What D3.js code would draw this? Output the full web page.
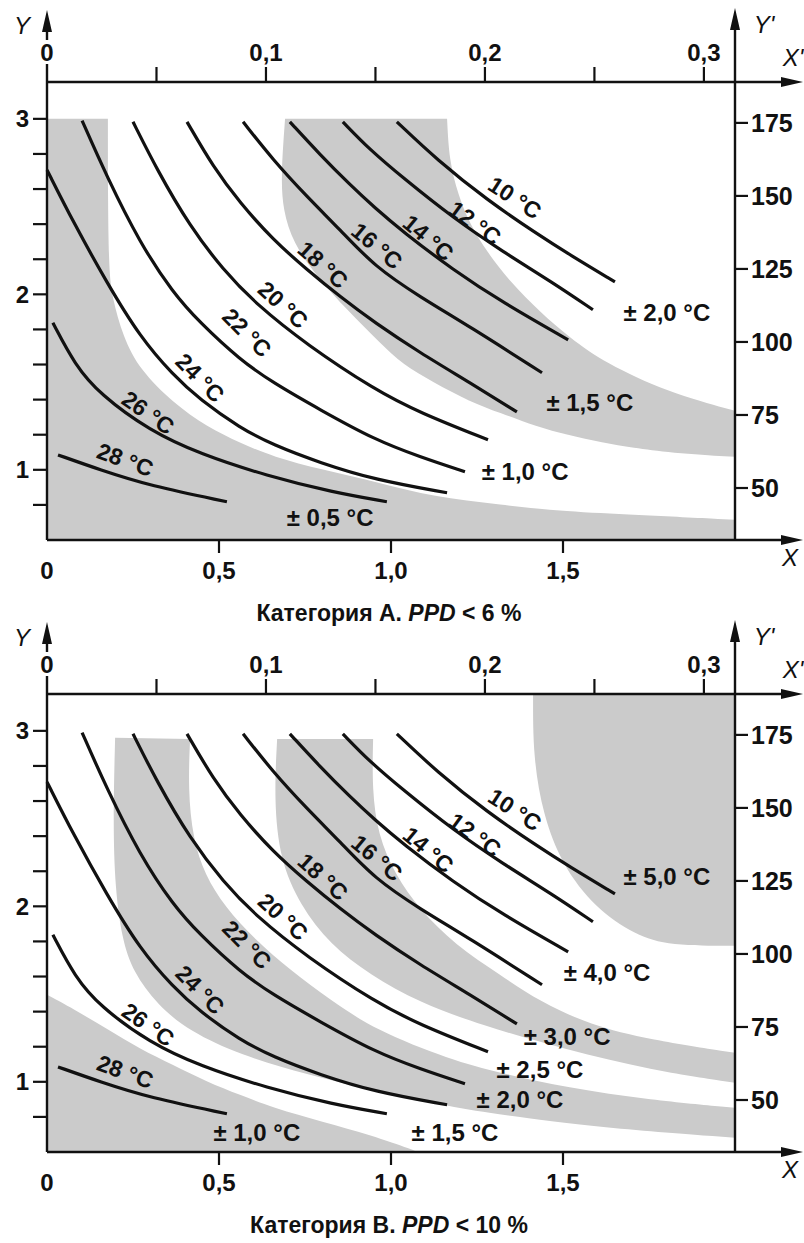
<!DOCTYPE html>
<html>
<head>
<meta charset="utf-8">
<script src="https://cdn.jsdelivr.net/npm/d3@7"></script>
<style>
body { margin: 0; background: #fff; }
text { font-family: "Liberation Sans", Arial, sans-serif; fill: #111; }
</style>
</head>
<body>
<svg id="chart" width="804" height="1243"></svg>
<script>
// Operative temperature curves: X = clothing (clo), Y = activity (met)
var curveNames = ["10 °C", "12 °C", "14 °C", "16 °C", "18 °C", "20 °C", "22 °C", "24 °C", "26 °C", "28 °C"];
var t10 = [[1.017,2.983],[1.134,2.766],[1.279,2.538],[1.424,2.345],[1.520,2.225],[1.651,2.071]];
var t12 = [[0.860,2.983],[0.939,2.823],[1.035,2.664],[1.180,2.436],[1.326,2.242],[1.471,2.066],[1.587,1.912]];
var t14 = [[0.706,2.983],[0.794,2.795],[0.881,2.624],[0.953,2.493],[1.035,2.356],[1.180,2.140],[1.326,1.952],[1.515,1.741]];
var t16 = [[0.570,2.983],[0.657,2.766],[0.756,2.556],[0.852,2.368],[0.953,2.157],[1.084,1.986],[1.230,1.815],[1.439,1.553]];
var t18 = [[0.407,2.983],[0.483,2.726],[0.561,2.521],[0.657,2.311],[0.756,2.140],[0.852,1.986],[0.953,1.838],[1.084,1.667],[1.230,1.496],[1.366,1.330]];
var t20 = [[0.250,2.983],[0.320,2.709],[0.416,2.385],[0.512,2.140],[0.610,1.940],[0.756,1.712],[0.953,1.456],[1.084,1.325],[1.282,1.171]];
var t22 = [[0.102,2.990],[0.174,2.670],[0.270,2.293],[0.366,2.009],[0.445,1.838],[0.561,1.627],[0.657,1.496],[0.794,1.342],[0.953,1.171],[1.084,1.074],[1.215,0.989]];
var t24 = [[0.000,2.709],[0.076,2.413],[0.174,2.066],[0.270,1.758],[0.366,1.541],[0.445,1.399],[0.561,1.239],[0.657,1.142],[0.794,1.040],[0.953,0.943],[1.163,0.869]];
var t26 = [[0.017,1.838],[0.081,1.598],[0.154,1.430],[0.299,1.222],[0.445,1.090],[0.640,0.965],[0.831,0.872],[0.988,0.818]];
var t28 = [[0.032,1.085],[0.154,1.000],[0.299,0.909],[0.523,0.818]];
var curves = [t10, t12, t14, t16, t18, t20, t22, t24, t26, t28];

// label anchor beside each curve (X, Y) and text angle
var curveLabelX = [1.360, 1.244, 1.108, 0.959, 0.802, 0.686, 0.581, 0.445, 0.294, 0.227];
var curveLabelY = [2.550, 2.407, 2.322, 2.276, 2.168, 1.940, 1.781, 1.524, 1.325, 1.057];
var curveLabelAngle = [33, 36, 40, 40, 42, 42, 45, 45, 35, 20];

// Category A bands (grey = ±0,5 and ±1,5)
var a1Edge = [[0.177,3.0],[0.177,2.55],[0.180,2.14],[0.189,1.986],[0.221,1.758],[0.270,1.570],[0.366,1.382],[0.465,1.245],[0.561,1.154],[0.657,1.074],[0.802,1.000],[0.968,0.926],[1.122,0.846],[1.317,0.801],[1.512,0.761],[1.703,0.744],[2.0,0.715]];
var a2Upper = [[1.163,3.0],[1.169,2.766],[1.195,2.567],[1.230,2.396],[1.279,2.242],[1.346,2.071],[1.433,1.900],[1.520,1.752],[1.622,1.610],[1.802,1.444],[2.0,1.336]];
var a2Lower = [[0.692,3.0],[0.680,2.670],[0.686,2.481],[0.715,2.293],[0.785,2.100],[0.872,1.912],[0.968,1.724],[1.035,1.598],[1.122,1.501],[1.230,1.387],[1.317,1.325],[1.424,1.245],[1.512,1.199],[1.616,1.154],[1.703,1.125],[1.811,1.097],[2.0,1.074]];

// Category B bands (grey = ±1,0, ±2,0, ±3,0, ±5,0)
var b1Edge = [[0,1.496],[0.076,1.416],[0.174,1.302],[0.270,1.188],[0.366,1.097],[0.465,1.000],[0.561,0.926],[0.657,0.852],[0.802,0.772],[0.939,0.698],[1.070,0.607]];
var b2Upper = [[0.416,2.954],[0.410,2.670],[0.424,2.385],[0.459,2.179],[0.517,1.997],[0.605,1.809],[0.706,1.638],[0.823,1.467],[0.953,1.296],[1.172,1.125],[1.317,1.051],[1.512,0.966],[1.753,0.897],[2.0,0.852]];
var b2Lower = [[0.198,2.960],[0.192,2.481],[0.198,2.100],[0.218,1.815],[0.250,1.627],[0.320,1.439],[0.416,1.285],[0.561,1.154],[0.756,1.040],[0.968,0.943],[1.172,0.858],[1.317,0.812],[1.608,0.738],[2.0,0.681]];
var b3Upper = [[0.948,2.954],[0.945,2.664],[0.962,2.407],[1.012,2.179],[1.084,1.980],[1.186,1.781],[1.317,1.610],[1.433,1.456],[1.578,1.325],[1.753,1.239],[2.0,1.165]];
var b3Lower = [[0.669,2.954],[0.660,2.607],[0.677,2.265],[0.735,2.009],[0.823,1.781],[0.939,1.610],[1.084,1.450],[1.259,1.325],[1.512,1.182],[1.753,1.068],[2.0,0.994]];
var b4Edge = [[1.413,3.21],[1.413,2.852],[1.442,2.521],[1.497,2.236],[1.593,1.991],[1.709,1.838],[1.811,1.775],[2.0,1.775]];

// tolerance labels
var tolA = ["± 0,5 °C", "± 1,0 °C", "± 1,5 °C", "± 2,0 °C"];
var tolAX = [0.823, 1.390, 1.578, 1.802];
var tolAY = [0.726, 0.989, 1.382, 1.895];
var tolB = ["± 1,0 °C", "± 1,5 °C", "± 2,0 °C", "± 2,5 °C", "± 3,0 °C", "± 4,0 °C", "± 5,0 °C"];
var tolBX = [0.610, 1.186, 1.375, 1.433, 1.512, 1.628, 1.802];
var tolBY = [0.709, 0.709, 0.897, 1.068, 1.256, 1.621, 2.168];

// ticks
var xTicks = [0.5, 1.0, 1.5];
var xTickLabels = ["0,5", "1,0", "1,5"];
var xpTicks = [0.05, 0.1, 0.15, 0.2, 0.25, 0.3];
var xpLabelTicks = [0.1, 0.2, 0.3];
var xpTickLabels = ["0,1", "0,2", "0,3"];
var yTicks = [0.8, 1.0, 1.2, 1.4, 1.6, 1.8, 2.0, 2.2, 2.4, 2.6, 2.8, 3.0];
var yLabelTicks = [1, 2, 3];
var ypTicks = [50, 75, 100, 125, 150, 175];

var captions = [["Категория А. ", "PPD", " < 6 %"], ["Категория В. ", "PPD", " < 10 %"]];

var GREY = "#cbcbcb", INK = "#111";
var x = d3.scaleLinear().domain([0, 2]).range([47, 735]);
var y = d3.scaleLinear().domain([0.6, 3.21]).range([540, 82]);
var xP = d3.scaleLinear().domain([0, 0.3142]).range([47, 735]);
var yP = d3.scaleLinear().domain([32.2, 189]).range([540, 82]);

var line = d3.line().x(function(d){ return x(d[0]); }).y(function(d){ return y(d[1]); })
    .curve(d3.curveBasis);
function seg(pts) { return line(pts).replace(/^M/, "L"); }

var svg = d3.select("#chart");

function bandsA() {
    return [
        "M" + x(0) + "," + y(3.0) + seg(a1Edge) + "L" + x(2) + "," + y(0.6) + "L" + x(0) + "," + y(0.6) + "Z",
        line(a2Upper) + seg(a2Lower.slice().reverse()) + "Z"
    ];
}
function bandsB() {
    return [
        "M" + x(0) + "," + y(0.6) + seg(b1Edge) + "Z",
        line(b2Upper) + seg(b2Lower.slice().reverse()) + "Z",
        line(b3Upper) + seg(b3Lower.slice().reverse()) + "Z",
        "M" + x(2) + "," + y(3.21) + seg(b4Edge) + "Z"
    ];
}

function drawPanel(offset, bands, tolText, tolX, tolY, caption) {
    var g = svg.append("g").attr("transform", "translate(0," + offset + ")");

    // grey bands
    g.selectAll("path.band").data(bands).join("path")
        .attr("class", "band").attr("d", function(d){ return d; })
        .attr("fill", GREY);

    // temperature curves
    g.selectAll("path.tc").data(curves).join("path")
        .attr("class", "tc").attr("d", line)
        .attr("fill", "none").attr("stroke", INK).attr("stroke-width", 3.2);

    g.selectAll("text.tl").data(curveNames).join("text")
        .attr("class", "tl")
        .attr("transform", function(d, i){
            return "translate(" + x(curveLabelX[i]) + "," + y(curveLabelY[i]) + ") rotate(" + curveLabelAngle[i] + ")";
        })
        .attr("text-anchor", "middle").attr("dominant-baseline", "central")
        .style("font-size", "23px").style("font-weight", "bold")
        .text(function(d){ return d; });

    // tolerance labels
    g.selectAll("text.tol").data(tolText).join("text")
        .attr("class", "tol")
        .attr("x", function(d, i){ return x(tolX[i]); })
        .attr("y", function(d, i){ return y(tolY[i]); })
        .attr("text-anchor", "middle").attr("dominant-baseline", "central")
        .style("font-size", "24px").style("font-weight", "bold")
        .text(function(d){ return d; });

    // axes lines
    var ax = g.append("g").attr("stroke", INK).attr("stroke-width", 2.4);
    ax.append("line").attr("x1", x(0)).attr("x2", x(0)).attr("y1", y(0.6)).attr("y2", 24);
    ax.append("line").attr("x1", x(2)).attr("x2", x(2)).attr("y1", y(0.6)).attr("y2", 22);
    ax.append("line").attr("x1", x(0)).attr("x2", 790).attr("y1", y(0.6)).attr("y2", y(0.6));
    ax.append("line").attr("x1", x(0)).attr("x2", 790).attr("y1", y(3.21)).attr("y2", y(3.21));

    // arrow heads
    var arrows = [
        "M" + x(0) + ",10L" + (x(0) - 5) + ",32L" + (x(0) + 5) + ",32Z",
        "M" + x(2) + ",8L" + (x(2) - 5) + ",30L" + (x(2) + 5) + ",30Z",
        "M803," + y(0.6) + "L781," + (y(0.6) - 5) + "L781," + (y(0.6) + 5) + "Z",
        "M803," + y(3.21) + "L781," + (y(3.21) - 5) + "L781," + (y(3.21) + 5) + "Z"
    ];
    g.selectAll("path.arrow").data(arrows).join("path")
        .attr("class", "arrow").attr("d", function(d){ return d; }).attr("fill", INK);

    // left Y ticks
    g.selectAll("line.yt").data(yTicks).join("line").attr("class", "yt")
        .attr("x1", x(0) - 14).attr("x2", x(0))
        .attr("y1", function(d){ return y(d); }).attr("y2", function(d){ return y(d); })
        .attr("stroke", INK).attr("stroke-width", 2.2);
    g.selectAll("text.yl").data(yLabelTicks).join("text").attr("class", "yl")
        .attr("x", 29).attr("y", function(d){ return y(d); })
        .attr("text-anchor", "end").attr("dominant-baseline", "central")
        .style("font-size", "24px").style("font-weight", "bold")
        .text(function(d){ return d; });

    // right Y' ticks
    g.selectAll("line.ypt").data(ypTicks).join("line").attr("class", "ypt")
        .attr("x1", x(2)).attr("x2", x(2) + 13)
        .attr("y1", function(d){ return yP(d); }).attr("y2", function(d){ return yP(d); })
        .attr("stroke", INK).attr("stroke-width", 2.2);
    g.selectAll("text.ypl").data(ypTicks).join("text").attr("class", "ypl")
        .attr("x", 751).attr("y", function(d){ return yP(d); })
        .attr("dominant-baseline", "central")
        .style("font-size", "25px").style("font-weight", "bold")
        .text(function(d){ return d; });

    // bottom X ticks
    g.selectAll("line.xt").data(xTicks).join("line").attr("class", "xt")
        .attr("x1", function(d){ return x(d); }).attr("x2", function(d){ return x(d); })
        .attr("y1", y(0.6)).attr("y2", y(0.6) + 13)
        .attr("stroke", INK).attr("stroke-width", 2.2);
    g.selectAll("text.xl").data([0].concat(xTicks)).join("text").attr("class", "xl")
        .attr("x", function(d){ return x(d); }).attr("y", 570)
        .attr("text-anchor", "middle").attr("dominant-baseline", "central")
        .style("font-size", "24px").style("font-weight", "bold")
        .text(function(d, i){ return i === 0 ? "0" : xTickLabels[i - 1]; });

    // top X' ticks
    g.selectAll("line.xpt").data(xpTicks).join("line").attr("class", "xpt")
        .attr("x1", function(d){ return xP(d); }).attr("x2", function(d){ return xP(d); })
        .attr("y1", y(3.21)).attr("y2", y(3.21) - 15)
        .attr("stroke", INK).attr("stroke-width", 2.2);
    g.append("rect").attr("x", x(0) - 8).attr("y", 40).attr("width", 16).attr("height", 24).attr("fill", "#fff");
    g.selectAll("text.xpl").data([0].concat(xpLabelTicks)).join("text").attr("class", "xpl")
        .attr("x", function(d){ return xP(d); }).attr("y", 52)
        .attr("text-anchor", "middle").attr("dominant-baseline", "central")
        .style("font-size", "24px").style("font-weight", "bold")
        .text(function(d, i){ return i === 0 ? "0" : xpTickLabels[i - 1]; });

    // axis names
    var names = [["Y", 22, 25], ["Y'", 764, 24], ["X'", 793, 57], ["X", 790, 557]];
    g.selectAll("text.an").data(names).join("text").attr("class", "an")
        .attr("x", function(d){ return d[1]; }).attr("y", function(d){ return d[2]; })
        .attr("text-anchor", "middle").attr("dominant-baseline", "central")
        .style("font-size", "24px").style("font-style", "italic")
        .text(function(d){ return d[0]; });

    // caption
    var cap = g.append("text").attr("x", 389).attr("y", 621).attr("text-anchor", "middle")
        .style("font-size", "23px").style("font-weight", "bold");
    cap.append("tspan").text(caption[0]);
    cap.append("tspan").style("font-style", "italic").text(caption[1]);
    cap.append("tspan").text(caption[2]);
}

drawPanel(0, bandsA(), tolA, tolAX, tolAY, captions[0]);
drawPanel(612, bandsB(), tolB, tolBX, tolBY, captions[1]);
</script>
</body>
</html>
